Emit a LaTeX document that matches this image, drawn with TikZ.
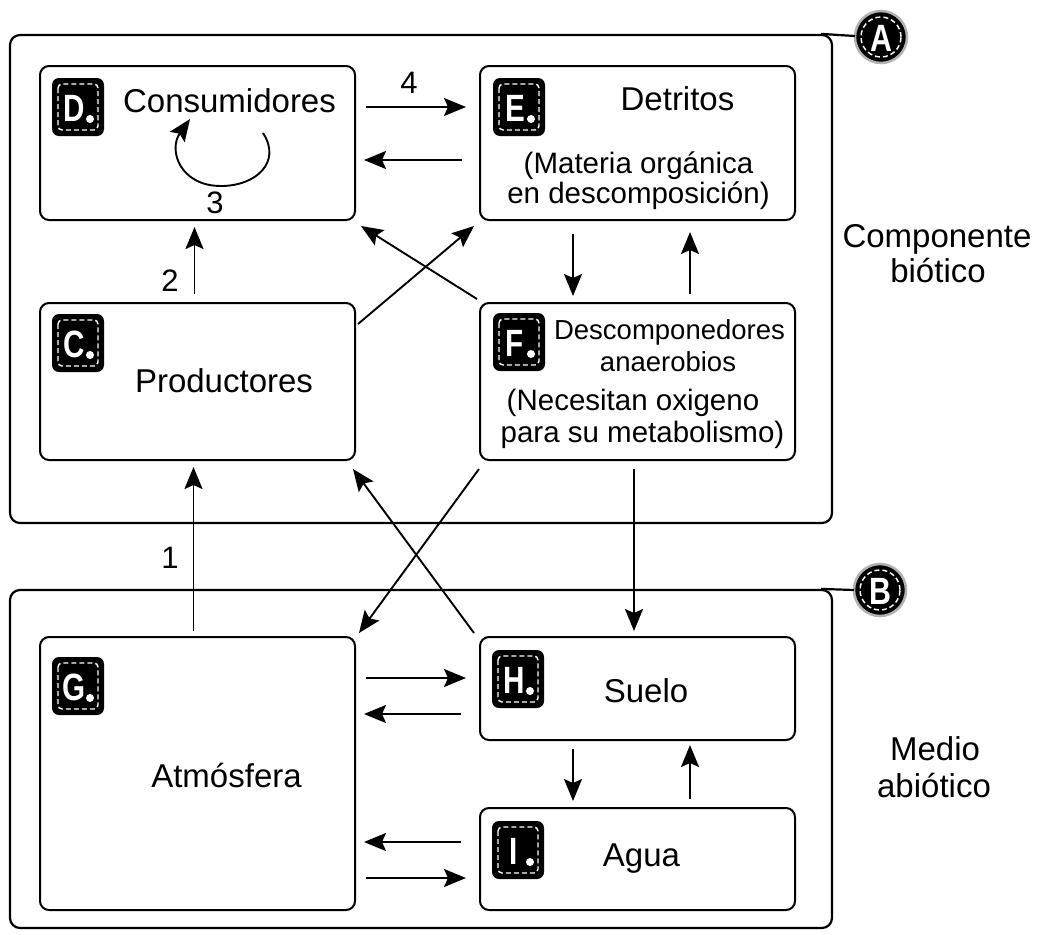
\documentclass[tikz,border=0pt]{standalone}
\usepackage{fontspec}
\setmainfont{Liberation Sans}
\usetikzlibrary{arrows.meta}
\begin{document}
\begin{tikzpicture}[x=1pt,y=-1pt,
  grp/.style={draw, line width=2.2pt, rounded corners=10pt, inner sep=0},
  box/.style={draw, line width=2pt, rounded corners=9pt, inner sep=0, minimum width=315pt},
  arr/.style={line width=1.9pt, -{Stealth[length=22pt,width=18pt,inset=4pt]}},
  txt/.style={inner sep=0, anchor=base, font=\fontsize{33}{38}\selectfont},
  stxt/.style={inner sep=0, anchor=base, font=\fontsize{29.5}{34}\selectfont},
  xtxt/.style={inner sep=0, anchor=base, font=\fontsize{27.5}{32}\selectfont},
  num/.style={inner sep=0, anchor=base, font=\fontsize{31}{36}\selectfont},
  badge/.pic={
    \fill[black, rounded corners=7pt] (-26,-29) rectangle (26,29);
    \draw[white, line width=1.4pt, dash pattern=on 5pt off 3pt, rounded corners=4pt] (-20,-23) rectangle (20,23);
    \node[white, inner sep=0, xscale=0.78, font=\fontsize{38}{40}\selectfont\bfseries] (-l) at (-4,1) {#1};
    \fill[white] (12,12) circle (4pt);
  },
  mark/.pic={
    \fill[black] (0,0) circle (26pt);
    \draw[gray!60, line width=2.5pt] (0,0) circle (26pt);
    \draw[white, line width=1.4pt, dash pattern=on 5pt off 3pt] (0,0) circle (20pt);
    \node[white, inner sep=0, xscale=0.8, font=\fontsize{38}{40}\selectfont\bfseries] (-l) at (0,1) {#1};
  }
]
\useasboundingbox (0,0) rectangle (1037,935);

% group boxes
\node[grp, minimum width=822pt, minimum height=488pt] (gA) at (421,279) {};
\node[grp, minimum width=822pt, minimum height=338pt] (gB) at (421,759) {};
\pic (mA) at (881,37) {mark=A};
\pic (mB) at (880,590) {mark=B};
\coordinate (mAw) at (855,36);
\coordinate (mBw) at (854,590);
\draw[line width=2.2pt] ([xshift=-12pt]gA.north east) -- (mAw);
\draw[line width=2.2pt] ([xshift=-12pt]gB.north east) -- (mBw);

% inner boxes
\node[box, minimum height=154pt] (D) at (197.5,143) {};
\node[box, minimum height=154pt] (E) at (637.5,143) {};
\node[box, minimum height=157pt] (C) at (197.5,381.5) {};
\node[box, minimum height=157pt] (F) at (637.5,381.5) {};
\node[box, minimum height=273pt] (G) at (197.5,773.5) {};
\node[box, minimum height=103pt] (H) at (637.5,688.5) {};
\node[box, minimum height=102pt] (I) at (637.5,859) {};

% badges
\pic (bD) at (78,107) {badge=D};
\pic (bE) at (519,107) {badge=E};
\pic (bC) at (78,343) {badge=C};
\pic (bF) at (519,342) {badge=F};
\pic (bG) at (78,686) {badge=G};
\pic (bH) at (518,679) {badge=H};
\pic (bI) at (518,850) {badge=I};

% texts
\node[txt] (tD) at (229.5,112) {Consumidores};
\node[txt] (tE1) at (677.5,110) {Detritos};
\node[stxt] (tE2) at (638.5,173) {(Materia orgánica};
\node[stxt] (tE3) at (638.5,203) {en descomposición)};
\node[txt] (tC) at (224,392) {Productores};
\node[xtxt] (tF1) at (669.5,339) {Descomponedores};
\node[xtxt] (tF2) at (668,371) {anaerobios};
\node[stxt] (tF3) at (633,410) {(Necesitan oxigeno};
\node[stxt] (tF4) at (642.5,442) {para su metabolismo)};
\node[txt] (tG) at (226.5,787) {Atmósfera};
\node[txt] (tH) at (646,702) {Suelo};
\node[txt] (tI) at (641.5,866) {Agua};
\node[txt] (tA1) at (937,247) {Componente};
\node[txt] (tA2) at (938,282) {biótico};
\node[txt] (tB1) at (935,760) {Medio};
\node[txt] (tB2) at (934,797) {abiótico};

% numbers
\node[num] (n4) at (409,93) {4};
\node[num] (n3) at (215,213) {3};
\node[num] (n2) at (170,291) {2};
\node[num] (n1) at (170,568) {1};

% self loop on D
\coordinate (l1) at (263,133);
\coordinate (l2) at (221,186);
\coordinate (l3) at (190,119);
\draw[arr] (l1) .. controls (282,162) and (256,186) .. (l2) .. controls (180,186) and (168,150) .. (l3);

% connectors
\draw[arr] ([shift={(10,-36)}]D.east) -- ([shift={(-13,-36)}]E.west);
\draw[arr] ([shift={(-17,17)}]E.west) -- ([shift={(8,17)}]D.east);
\draw[arr] ([shift={(-3,-8)}]C.north) -- ([shift={(-3,6)}]D.south);
\draw[arr] ([shift={(2,22)}]C.north east) -- ([shift={(-5,5)}]E.south west);
\draw[arr] ([shift={(-2,-3)}]F.north west) -- ([shift={(5,5)}]D.south east);
\draw[arr] ([shift={(-64.5,13)}]E.south) -- ([shift={(-64.5,-6)}]F.north);
\draw[arr] ([shift={(52.5,-8)}]F.north) -- ([shift={(52.5,11)}]E.south);
\draw[arr] ([shift={(-4,-5)}]G.north) -- ([shift={(-4,6)}]C.south);
\draw[arr] ([shift={(-5,-3)}]H.north west) -- ([shift={(-3,8)}]C.south east);
\draw[arr] ([shift={(0,8)}]F.south west) -- ([shift={(3,-3)}]G.north east);
\draw[arr] ([shift={(-3.5,8)}]F.south) -- ([shift={(-3.5,-5)}]H.north);
\draw[arr] ([shift={(10,-95.5)}]G.east) -- ([shift={(-13,-10.5)}]H.west);
\draw[arr] ([shift={(-18,25.5)}]H.west) -- ([shift={(8,-59.5)}]G.east);
\draw[arr] ([shift={(-18,-17)}]I.west) -- ([shift={(8,68.5)}]G.east);
\draw[arr] ([shift={(10,104.5)}]G.east) -- ([shift={(-13,19)}]I.west);
\draw[arr] ([shift={(-64.5,8)}]H.south) -- ([shift={(-64.5,-6)}]I.north);
\draw[arr] ([shift={(52.5,-8)}]I.north) -- ([shift={(52.5,4)}]H.south);
\end{tikzpicture}
\end{document}
